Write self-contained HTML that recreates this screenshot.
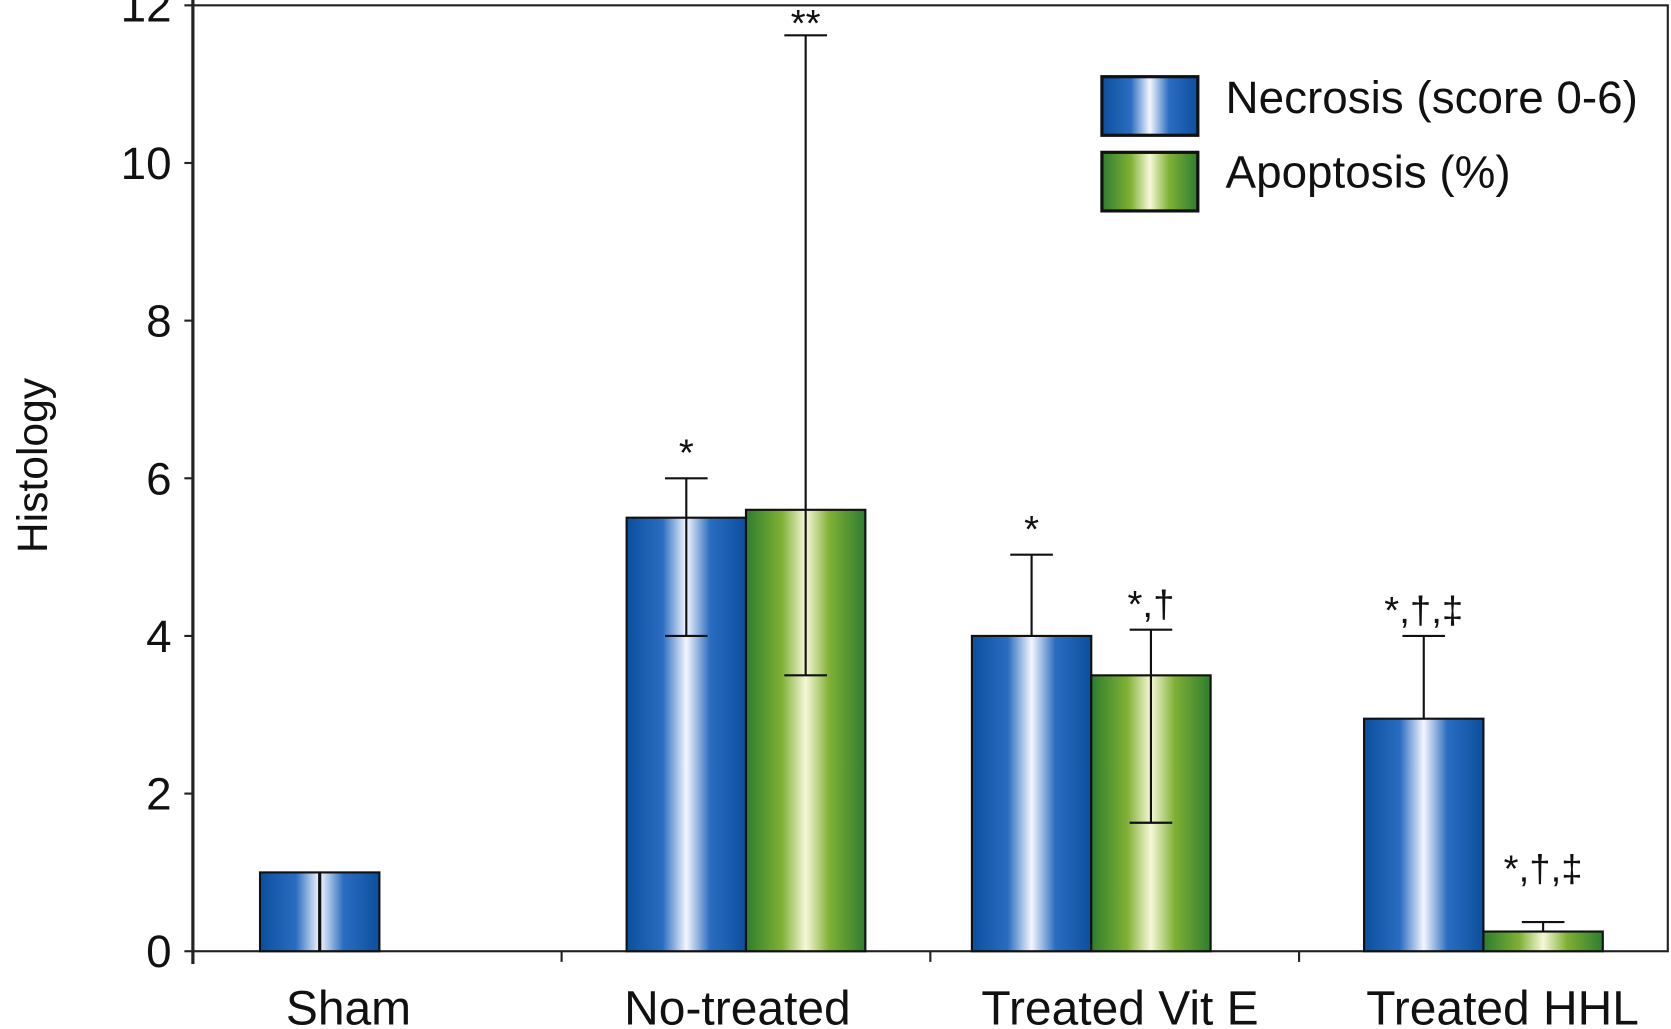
<!DOCTYPE html>
<html><head><meta charset="utf-8"><style>
html,body{margin:0;padding:0;background:#fff;}
svg{display:block;}
text{font-family:"Liberation Sans Narrow","Liberation Sans",sans-serif;fill:#111;}
</style></head><body>
<svg id="chart" width="1671" height="1029" viewBox="0 0 1568 966" preserveAspectRatio="none" xmlns="http://www.w3.org/2000/svg">
<defs>
<linearGradient id="gBlue" x1="0" x2="1" y1="0" y2="0">
<stop offset="0" stop-color="#0d4f9e"/><stop offset="0.3" stop-color="#2a6cc0"/><stop offset="0.5" stop-color="#f4f6ff"/><stop offset="0.7" stop-color="#2a6cc0"/><stop offset="1" stop-color="#0d4f9e"/>
</linearGradient>
<linearGradient id="gGreen" x1="0" x2="1" y1="0" y2="0">
<stop offset="0" stop-color="#2e7d2e"/><stop offset="0.3" stop-color="#7fb034"/><stop offset="0.5" stop-color="#f6f8d8"/><stop offset="0.7" stop-color="#7fb034"/><stop offset="1" stop-color="#2e7d2e"/>
</linearGradient>
</defs>
<g id="plot"></g>
</svg>
<script>
const categories = ["Sham","No-treated","Treated Vit E","Treated HHL"];
const necrosis = [1.0, 5.5, 4.0, 2.95];
const necrosisHi = [1.0, 6.0, 5.03, 4.0];
const necrosisLo = [0, 4.0, 4.0, 2.95];
const apoptosis = [null, 5.6, 3.5, 0.25];
const apoptosisHi = [null, 11.62, 4.08, 0.37];
const apoptosisLo = [null, 3.5, 1.63, 0.25];
const necrosisMarks = ["", "*", "*", "*,\u2020,\u2021"];
const apoptosisMarks = ["", "**", "*,\u2020", "*,\u2020,\u2021"];
const yTicks = [0,2,4,6,8,10,12];
const legendLabels = ["Necrosis (score 0-6)","Apoptosis (%)"];

const NS="http://www.w3.org/2000/svg";
const g=document.getElementById('plot');
const X0=181, X1=1565, Y0=893, YT=5, BW=112;
const y=v=>Y0-(Y0-YT)*v/12;
const band=(X1-X0)/categories.length;
const cx=i=>X0+band*(i+0.5)+(i===0?-54:(i===2?-22:0));
const labelShift=[-27,-8,5,18];
function el(t,a,parent){const e=document.createElementNS(NS,t);for(const k in a)e.setAttribute(k,a[k]);(parent||g).appendChild(e);return e;}

const frame=el('rect',{x:X0,y:YT,width:X1-X0,height:Y0-YT,fill:'none',stroke:'#222','stroke-width':2});


const ya=el('line',{x1:X0,y1:0,x2:X0,y2:905,stroke:'#222','stroke-width':3});



yTicks.forEach(v=>{
  const t=el('line',{x1:X0-8,x2:X0,y1:y(v),y2:y(v),stroke:'#222','stroke-width':2});
  
  
  const l=el('text',{x:X0-20,y:y(v)+15,'text-anchor':'end','font-size':43});
  l.textContent=v;
  
  
});
const yt=el('text',{x:0,y:0,'text-anchor':'middle','font-size':40,transform:'translate(44,437) rotate(-90)'});
yt.textContent='Histology';



for(let i=1;i<categories.length;i++){
  const t=el('line',{x1:X0+band*i,x2:X0+band*i,y1:Y0,y2:Y0+10,stroke:'#222','stroke-width':2});
  
  
}
categories.forEach((c,i)=>{
  const t=el('text',{x:X0+band*(i+0.5)+labelShift[i],y:962,'text-anchor':'middle','font-size':45});
  t.textContent=c;
  
  
});

function errbar(x,val,lo,hi){
  const bottom=Math.min(val,lo);
  const v=el('line',{x1:x,x2:x,y1:y(hi),y2:y(bottom),stroke:'#111','stroke-width':2});
  
  
  const c=el('line',{x1:x-20,x2:x+20,y1:y(hi),y2:y(hi),stroke:'#111','stroke-width':2});
  
  
  if(lo<val){const c2=el('line',{x1:x-20,x2:x+20,y1:y(lo),y2:y(lo),stroke:'#111','stroke-width':2});
  
  }
}
function mark(x,v,txt){
  if(!txt)return;
  const t=el('text',{x:x,y:Math.max(y(v)-12,34),'text-anchor':'middle','font-size':36});
  t.textContent=txt;
  
  
}

categories.forEach((c,i)=>{
  const c0=cx(i);
  const bx=apoptosis[i]===null?c0-BW/2:c0-BW;
  const b=el('rect',{x:bx,y:y(necrosis[i]),width:BW,height:Y0-y(necrosis[i]),fill:'url(#gBlue)',stroke:'#111','stroke-width':2});
  
  
  const bc=bx+BW/2;
  if(i===0){const l=el('line',{x1:bc,x2:bc,y1:y(necrosis[i]),y2:Y0,stroke:'#111','stroke-width':3});
    
    }
  else {errbar(bc,necrosis[i],necrosisLo[i],necrosisHi[i]); mark(bc,necrosisHi[i],necrosisMarks[i]);}
  if(apoptosis[i]!==null){
    const a=el('rect',{x:c0,y:y(apoptosis[i]),width:BW,height:Y0-y(apoptosis[i]),fill:'url(#gGreen)',stroke:'#111','stroke-width':2});
    
    
    const ac=c0+BW/2;
    errbar(ac,apoptosis[i],apoptosisLo[i],apoptosisHi[i]);
    mark(ac,apoptosisHi[i]+(i===3?0.35:0),apoptosisMarks[i]);
  }
});

legendLabels.forEach((l,k)=>{
  const r=el('rect',{x:1034,y:72+k*71,width:90,height:55,fill:k?'url(#gGreen)':'url(#gBlue)',stroke:'#111','stroke-width':3});
  
  
  const t=el('text',{x:1150,y:106+k*70,'font-size':43});
  t.textContent=l;
  
  
});
</script>
</body></html>
